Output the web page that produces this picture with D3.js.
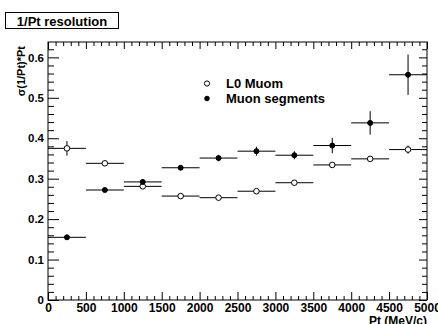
<!DOCTYPE html>
<html>
<head>
<meta charset="utf-8">
<script src="https://cdn.jsdelivr.net/npm/d3@7"></script>
<style>
  body { margin: 0; background: #fff; }
  svg { display: block; font-family: "Liberation Sans", Arial, sans-serif; font-weight: bold; }
</style>
</head>
<body>
<svg id="chart"></svg>
<script>
// bin centres (MeV/c) and half widths
var binCenters = [250, 750, 1250, 1750, 2250, 2750, 3250, 3750, 4250, 4750];
var binHalf = 250;

// L0 Muom (open circles)
var l0Values = [0.375, 0.338, 0.281, 0.257, 0.253, 0.269, 0.290, 0.334, 0.349, 0.372];
var l0Errors = [0.018, 0.006, 0.006, 0.004, 0.004, 0.005, 0.005, 0.006, 0.007, 0.010];

// Muon segments (filled circles)
var segValues = [0.155, 0.272, 0.292, 0.327, 0.351, 0.368, 0.358, 0.382, 0.438, 0.557];
var segErrors = [0.005, 0.004, 0.006, 0.005, 0.008, 0.011, 0.010, 0.019, 0.029, 0.050];

var xTicks = [0, 500, 1000, 1500, 2000, 2500, 3000, 3500, 4000, 4500, 5000];
var yTicks = [0, 0.1, 0.2, 0.3, 0.4, 0.5, 0.6];

var svgWidth = 438;
var svgHeight = 324;
var plot = { left: 48, right: 427, top: 42, bottom: 300 };

var svg = d3.select("#chart")
  .attr("width", svgWidth)
  .attr("height", svgHeight);

var xScale = d3.scaleLinear().domain([0, 5000]).range([plot.left, plot.right]);
var yScale = d3.scaleLinear().domain([0, 0.638]).range([plot.bottom, plot.top]);

// minor tick values
var xMinor = d3.range(0, 5001, 100).filter(function (v) { return v % 500 !== 0; });
var yMinor = d3.range(0, 63).map(function (i) { return i * 0.01; })
  .filter(function (v, i) { return i % 2 === 0 && i % 10 !== 0; });

function styleAxis(g) {
  g.select(".domain").remove();
  g.selectAll("line").attr("stroke", "#000").attr("stroke-width", 1);
}

// bottom axis (ticks pointing up)
svg.append("g")
  .attr("transform", "translate(0," + plot.bottom + ")")
  .call(d3.axisBottom(xScale).tickValues(xTicks).tickSizeInner(-8).tickSizeOuter(0)
    .tickPadding(3).tickFormat(d3.format("d")))
  .call(styleAxis)
  .selectAll("text")
  .attr("fill", "#000")
  .style("font-size", "12px")
  .style("font-weight", "bold");

svg.append("g")
  .attr("transform", "translate(0," + plot.bottom + ")")
  .call(d3.axisBottom(xScale).tickValues(xMinor).tickSizeInner(-4).tickSizeOuter(0).tickFormat(""))
  .call(styleAxis);

// top axis
svg.append("g")
  .attr("transform", "translate(0," + plot.top + ")")
  .call(d3.axisTop(xScale).tickValues(xTicks).tickSizeInner(-7).tickSizeOuter(0).tickFormat(""))
  .call(styleAxis);
svg.append("g")
  .attr("transform", "translate(0," + plot.top + ")")
  .call(d3.axisTop(xScale).tickValues(xMinor).tickSizeInner(-4).tickSizeOuter(0).tickFormat(""))
  .call(styleAxis);

// left axis (ticks pointing right)
svg.append("g")
  .attr("transform", "translate(" + plot.left + ",0)")
  .call(d3.axisLeft(yScale).tickValues(yTicks).tickSizeInner(-11).tickSizeOuter(0)
    .tickPadding(4).tickFormat(function (d) { return d === 0 ? "0" : d3.format(".1f")(d); }))
  .call(styleAxis)
  .selectAll("text")
  .attr("fill", "#000")
  .style("font-size", "11.5px")
  .style("font-weight", "bold");

svg.append("g")
  .attr("transform", "translate(" + plot.left + ",0)")
  .call(d3.axisLeft(yScale).tickValues(yMinor).tickSizeInner(-6).tickSizeOuter(0).tickFormat(""))
  .call(styleAxis);

// right axis
svg.append("g")
  .attr("transform", "translate(" + plot.right + ",0)")
  .call(d3.axisRight(yScale).tickValues(yTicks).tickSizeInner(-8).tickSizeOuter(0).tickFormat(""))
  .call(styleAxis);
svg.append("g")
  .attr("transform", "translate(" + plot.right + ",0)")
  .call(d3.axisRight(yScale).tickValues(yMinor).tickSizeInner(-5).tickSizeOuter(0).tickFormat(""))
  .call(styleAxis);

// frame
svg.append("rect")
  .attr("x", plot.left)
  .attr("y", plot.top)
  .attr("width", plot.right - plot.left)
  .attr("height", plot.bottom - plot.top)
  .attr("fill", "none")
  .attr("stroke", "#000")
  .attr("stroke-width", 1);

// draw one series with error bars
function drawSeries(values, errors, filled) {
  var data = binCenters.map(function (c, i) {
    return { x: c, y: values[i], e: errors[i] };
  });
  var g = svg.append("g");
  g.selectAll(".xerr")
    .data(data)
    .enter()
    .append("line")
    .attr("x1", function (d) { return xScale(d.x - binHalf); })
    .attr("x2", function (d) { return xScale(d.x + binHalf); })
    .attr("y1", function (d) { return yScale(d.y); })
    .attr("y2", function (d) { return yScale(d.y); })
    .attr("stroke", "#000")
    .attr("stroke-width", 1);
  g.selectAll(".yerr")
    .data(data)
    .enter()
    .append("line")
    .attr("x1", function (d) { return xScale(d.x); })
    .attr("x2", function (d) { return xScale(d.x); })
    .attr("y1", function (d) { return yScale(d.y - d.e); })
    .attr("y2", function (d) { return yScale(d.y + d.e); })
    .attr("stroke", "#000")
    .attr("stroke-width", 1);
  g.selectAll("circle")
    .data(data)
    .enter()
    .append("circle")
    .attr("cx", function (d) { return xScale(d.x); })
    .attr("cy", function (d) { return yScale(d.y); })
    .attr("r", filled ? 2.5 : 2.8)
    .attr("fill", filled ? "#000" : "#fff")
    .attr("stroke", "#000")
    .attr("stroke-width", 1);
}

drawSeries(l0Values, l0Errors, false);
drawSeries(segValues, segErrors, true);

// legend
var legendItems = [
  { label: "L0 Muom", filled: false, y: 83.5 },
  { label: "Muon segments", filled: true, y: 98.5 }
];
legendItems.forEach(function (item) {
  svg.append("circle")
    .attr("cx", 207)
    .attr("cy", item.y)
    .attr("r", item.filled ? 2.3 : 2.6)
    .attr("fill", item.filled ? "#000" : "#fff")
    .attr("stroke", "#000")
    .attr("stroke-width", 1);
  svg.append("text")
    .attr("x", 226)
    .attr("y", item.y + 4.5)
    .style("font-size", "13px")
    .text(item.label);
});

// title box
svg.append("rect")
  .attr("x", 5.5)
  .attr("y", 12.5)
  .attr("width", 113)
  .attr("height", 16)
  .attr("fill", "#fff")
  .attr("stroke", "#000")
  .attr("stroke-width", 1);
svg.append("text")
  .attr("x", 62)
  .attr("y", 25.5)
  .attr("text-anchor", "middle")
  .style("font-size", "13px")
  .text("1/Pt resolution");

// axis titles
svg.append("text")
  .attr("transform", "translate(25,46) rotate(-90)")
  .attr("text-anchor", "end")
  .style("font-size", "11px")
  .text("σ(1/Pt)*Pt");

svg.append("text")
  .attr("x", 427)
  .attr("y", 325)
  .attr("text-anchor", "end")
  .style("font-size", "12px")
  .text("Pt (MeV/c)");
</script>
</body>
</html>
